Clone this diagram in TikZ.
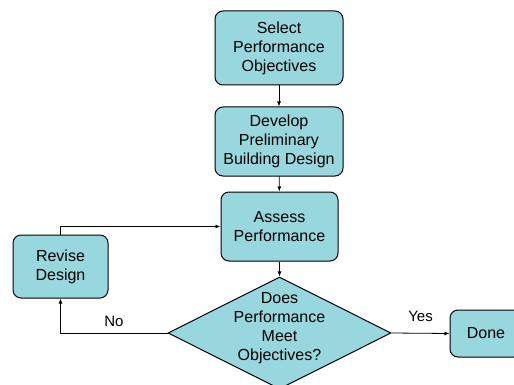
\documentclass[tikz,border=0pt]{standalone}
\usepackage{fontspec}
\setmainfont{Liberation Sans}
\usepackage{tikz}
\usetikzlibrary{arrows.meta,shapes.geometric}
\definecolor{boxfill}{RGB}{153,215,222}

\begin{document}
\begin{tikzpicture}[x=1pt,y=-1pt,>={Latex[length=5pt,width=4pt]},
  every node/.style={font=\fontsize{16}{19}\selectfont,align=center},
  stepbox/.style={draw,line width=1pt,fill=boxfill,rounded corners=8pt,inner sep=0pt},
  decbox/.style={draw,line width=1pt,fill=boxfill,diamond,inner sep=0pt},
  lbl/.style={font=\fontsize{15}{18}\selectfont,inner sep=6pt}]
  \useasboundingbox (0,0) rectangle (514,385);
  \clip (0,0) rectangle (514,385);
  % Schritte
  \node[stepbox,minimum width=128pt,minimum height=74pt] (sel) at (279,48)
    {Select\\Performance\\Objectives};
  \node[stepbox,minimum width=128pt,minimum height=69pt] (dev) at (279,141.5)
    {Develop\\Preliminary\\Building Design};
  \node[stepbox,minimum width=117pt,minimum height=69pt] (ass) at (279.5,226.5)
    {Assess\\Performance};
  \node[stepbox,minimum width=95pt,minimum height=63pt] (rev) at (60.5,266.5)
    {Revise\\Design};
  \node[decbox,minimum width=223pt,minimum height=112pt,
    label={[yshift=5pt]center:Does\\Performance\\Meet\\Objectives?}] (dec) at (279.5,333) {};
  \node[stepbox,minimum width=72pt,minimum height=47pt] (done) at (486,333.5) {Done};
  % Pfeile
  \draw[->,line width=0.8pt] (sel) -- (dev);
  \draw[->,line width=0.8pt] (dev) -- (ass);
  \draw[->,line width=0.8pt] (ass) -- (dec);
  \draw[->,line width=0.8pt] (dec.west) -| node[pos=0.25,above,lbl]{No} (rev);
  \draw[->,line width=0.8pt] (rev.north) |- (ass.west);
  \draw[->,line width=0.8pt] (dec.east) -- node[above,lbl,yshift=5pt]{Yes} (done.west);
\end{tikzpicture}
\end{document}
